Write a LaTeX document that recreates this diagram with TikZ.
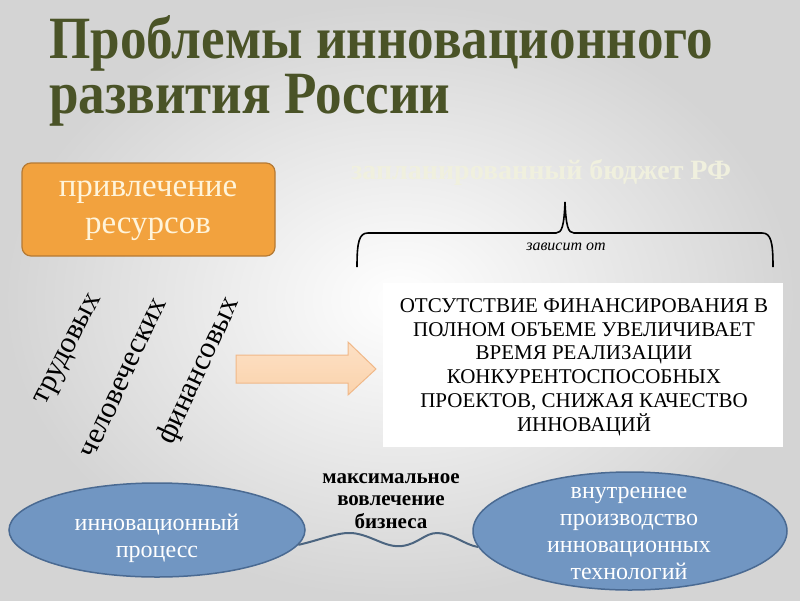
\documentclass[tikz,border=0pt]{standalone}
\usepackage{fontspec}
\setmainfont{Liberation Serif}
\newfontfamily\titlefont[FakeStretch=0.885]{Liberation Serif}
\usetikzlibrary{shapes.geometric}
\definecolor{titlecol}{HTML}{4A5327}
\definecolor{orangefill}{HTML}{F2A23E}
\definecolor{orangeline}{HTML}{B57A34}
\definecolor{creamtext}{HTML}{FFF4DA}
\definecolor{bluefill}{HTML}{7196C2}
\definecolor{blueline}{HTML}{4A6A92}
\definecolor{wavecol}{HTML}{4C6580}
\definecolor{arrowfill}{HTML}{FBD3AC}
\definecolor{arrowline}{HTML}{F0B888}
\definecolor{fadetext}{HTML}{F0F0DE}
\tikzset{
  titletext/.style={anchor=base west, inner sep=0, text=titlecol, font=\titlefont\bfseries\fontsize{60}{60}\selectfont},
  orangebox/.style={draw=orangeline, line width=1.2pt, fill=orangefill, rounded corners=9pt, minimum width=253pt, minimum height=93pt, inner sep=0},
  orangetext/.style={align=center, text=creamtext, font=\fontsize{33}{37}\selectfont, inner sep=0},
  slanted/.style={inner sep=0, font=\fontsize{30}{30}\selectfont, text=black},
  blockarrow/.style={draw=arrowline, line width=1pt, top color=arrowfill!70!white, bottom color=arrowfill},
  bracepath/.style={draw=black, line width=1.6pt},
  textbox/.style={fill=white, minimum width=400pt, minimum height=164pt, inner sep=0},
  boxtext/.style={align=center, font=\fontsize{21}{23.8}\selectfont, inner sep=0},
  blueell/.style={ellipse, draw=blueline, line width=1.5pt, fill=bluefill, inner sep=0},
  elltext/.style={align=center, text=white, inner sep=0, font=\fontsize{24}{27}\selectfont},
  wave/.style={draw=wavecol, line width=2pt},
}
\begin{document}
\begin{tikzpicture}[x=1pt,y=-1pt]
\useasboundingbox (0,0) rectangle (800,600);
\shade[inner color=white, outer color=black!17] (0,0) rectangle (800,600);
% title
\node[titletext] (t1) at (49,58) {Проблемы инновационного};
\node[titletext] (t2) at (49,113) {развития России};
% faded text
\node[inner sep=0, text=fadetext, font=\bfseries\fontsize{28}{28}\selectfont, anchor=base west] (fade) at (351,179) {запланированный бюджет РФ};
% orange box
\node[orangebox] (res) at (148.5,209.5) {};
\node[orangetext] (restext) at (148,211) {привлечение\\ ресурсов};
% slanted words
\node[slanted, rotate=63] (w1) at (70,350) {трудовых};
\node[slanted, rotate=65] (w2) at (124,378) {человеческих};
\node[slanted, rotate=65] (w3) at (199,371) {финансовых};
% block arrow
\path[blockarrow] (236,355) -- (348,355) -- (348,342) -- (376,369) -- (348,395) -- (348,383) -- (236,383) -- cycle;
% brace
\coordinate (bl) at (357,267);
\coordinate (br) at (773,267);
\coordinate (bp) at (565,202);
\path[bracepath] (bl) .. controls (357,242) and (359,233) .. (368,233) -- (556,233) .. controls (562,233) and (564,226) .. (bp) .. controls (566,226) and (568,233) .. (574,233) -- (762,233) .. controls (771,233) and (773,242) .. (br);
\node[font=\itshape\fontsize{16}{16}\selectfont, inner sep=0] (dep) at (566,247) {зависит от};
% text box
\node[textbox] (box) at (583,365) {};
\node[boxtext] (boxt) at (584,367) {ОТСУТСТВИЕ ФИНАНСИРОВАНИЯ В\\ ПОЛНОМ ОБЪЕМЕ УВЕЛИЧИВАЕТ\\ ВРЕМЯ РЕАЛИЗАЦИИ\\ КОНКУРЕНТОСПОСОБНЫХ\\ ПРОЕКТОВ, СНИЖАЯ КАЧЕСТВО\\ ИННОВАЦИЙ};
% ellipses
\node[blueell, minimum width=296pt, minimum height=94pt] (proc) at (157,530) {};
\node[elltext] (proctext) at (157,538) {инновационный\\ процесс};
\node[blueell, minimum width=314pt, minimum height=118pt] (prod) at (630,531) {};
\node[elltext] (prodtext) at (629,533) {внутреннее\\ производство\\ инновационных\\ технологий};
% wave connector
\draw[wave] (proc.-6) .. controls (320,540) and (338,532) .. (352,533) .. controls (372,535) and (385,548) .. (402,546) .. controls (418,544) and (425,533) .. (437,533) .. controls (452,533) and (465,545) .. (prod.186);
% middle label
\node[font=\bfseries\fontsize{21}{22.5}\selectfont, align=center, inner sep=0] (mid) at (391,501) {максимальное\\ вовлечение\\ бизнеса};
\end{tikzpicture}
\end{document}
